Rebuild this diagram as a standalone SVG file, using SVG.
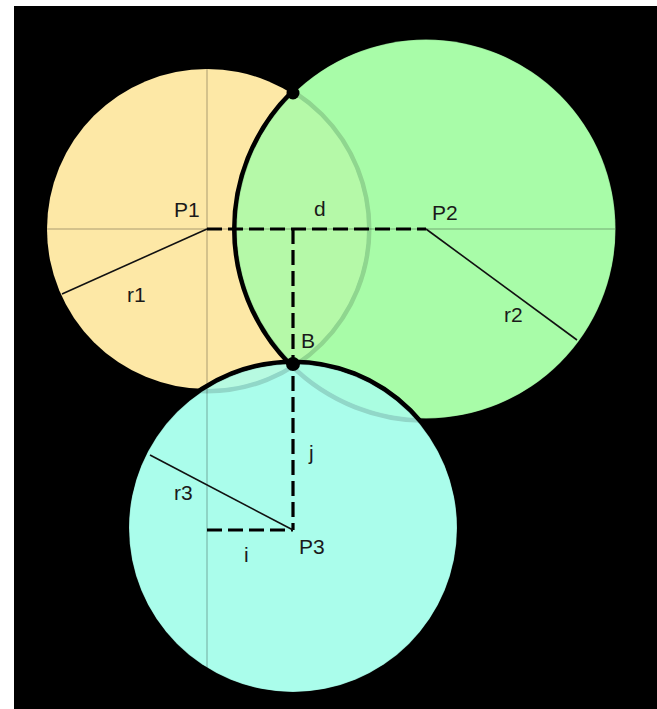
<svg xmlns="http://www.w3.org/2000/svg" width="657" height="709" viewBox="0 0 657 709">
<style>
.ring{fill:none;stroke:#000;stroke-width:5}
.c1{fill:#fde8a6}
.c2{fill:#a8fca8}
.c3{fill:#aafdeb}
.alpha{fill-opacity:0.85}
.guide{stroke:#000;stroke-opacity:0.16;stroke-width:2;fill:none}
.dash{stroke:#000;stroke-width:3.2;fill:none;stroke-dasharray:15 6}
.rad{stroke:#111;stroke-width:1.6;fill:none}
text{font-family:"Liberation Sans",Arial,sans-serif;font-size:21px;fill:#1a1a1a}
</style>
<rect x="0" y="0" width="657" height="709" fill="#fff"/>
<rect x="14" y="6" width="643" height="703" fill="#000"/>
<g id="circles">
  <g id="bases">
    <circle class="c3" cx="293" cy="528" r="164"/>
    <circle class="c2" cx="426" cy="229" r="189.5"/>
  </g>
  <g id="circle-P1">
    <circle class="ring" cx="207" cy="229" r="162"/>
    <circle class="c1" cx="207" cy="229" r="160"/>
  </g>
  <g id="circle-P2">
    <circle class="ring" cx="426" cy="229" r="191.5"/>
    <circle class="c2 alpha" cx="426" cy="229" r="189.5"/>
  </g>
  <g id="circle-P3">
    <circle class="ring" cx="293" cy="528" r="166"/>
    <circle class="c3 alpha" cx="293" cy="528" r="164"/>
  </g>
</g>
<g id="guides">
  <line class="guide" x1="207" y1="68" x2="207" y2="668"/>
  <line class="guide" x1="47" y1="229" x2="615" y2="229"/>
</g>
<g id="connectors">
  <line class="dash" x1="207" y1="229" x2="426" y2="229"/>
  <line class="dash" x1="293" y1="229" x2="293" y2="530"/>
  <line class="dash" x1="207" y1="530" x2="293" y2="530"/>
  <line class="rad" x1="207" y1="229" x2="62" y2="294"/>
  <line class="rad" x1="426" y1="229" x2="577" y2="340"/>
  <line class="rad" x1="293" y1="530" x2="150" y2="455"/>
  <text x="314" y="216">d</text>
  <text x="127" y="302">r1</text>
  <text x="504" y="322">r2</text>
  <text x="174" y="500">r3</text>
  <text x="244" y="562">i</text>
  <text x="309" y="460">j</text>
</g>
<g id="point-P1"><text x="174" y="217">P1</text></g>
<g id="point-P2"><text x="432" y="220">P2</text></g>
<g id="point-P3"><text x="299" y="554">P3</text></g>
<g id="point-top"><circle cx="293" cy="93" r="6.5" fill="#000"/></g>
<g id="point-B"><circle cx="293" cy="364" r="7" fill="#000"/><text x="301" y="348">B</text></g>
</svg>
